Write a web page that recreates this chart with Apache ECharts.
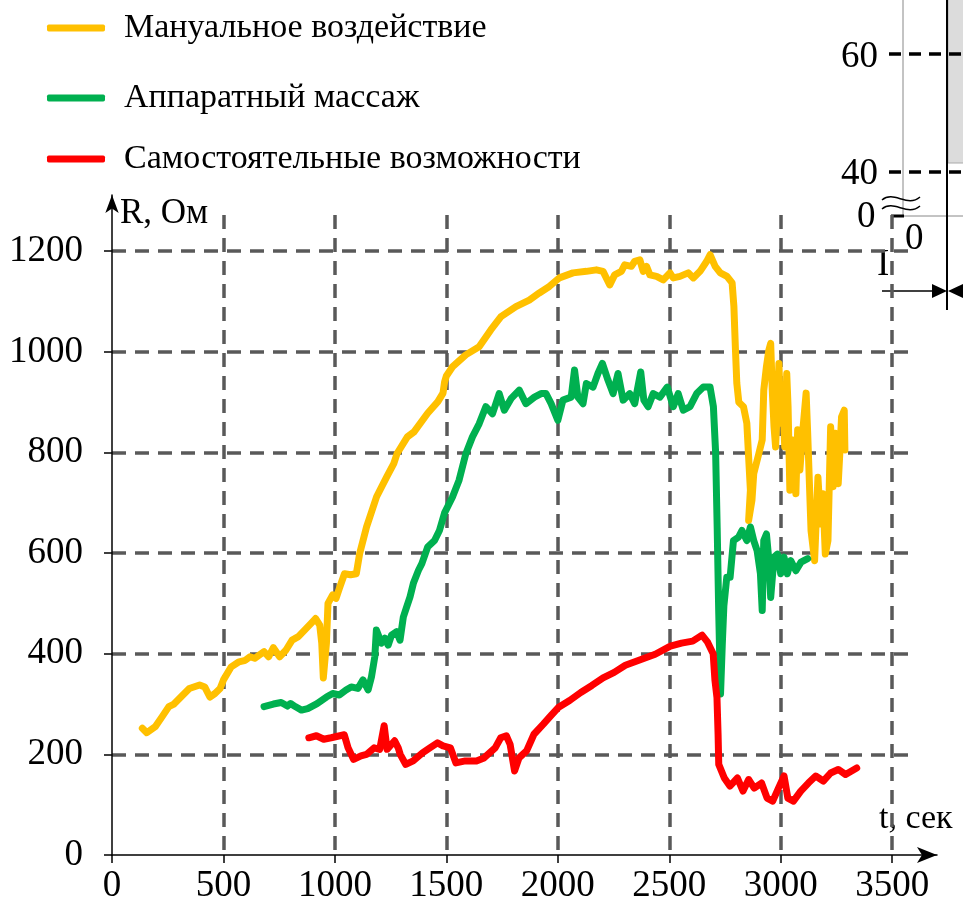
<!DOCTYPE html>
<html><head><meta charset="utf-8">
<script src="https://cdn.jsdelivr.net/npm/echarts@6/dist/echarts.min.js"></script>
<style>html,body{margin:0;padding:0;background:#fff}#c{width:963px;height:911px}</style>
</head><body><div id="c"></div>
<script>
var seriesNames = ['Мануальное воздействие', 'Аппаратный массаж', 'Самостоятельные возможности'];
var xTicks = [0, 500, 1000, 1500, 2000, 2500, 3000, 3500];
var yTicks = [0, 200, 400, 600, 800, 1000, 1200];

var manualT = [136,156,194,225,255,278,309,347,393,416,439,462,485,500,535,570,598,619,640,682,703,724,752,780,808,836,864,892,913,932,941,948,962,969,990,1005,1020,1043,1070,1096,1111,1142,1187,1233,1264,1279,1325,1355,1416,1462,1485,1492,1500,1527,1587,1647,1700,1745,1812,1872,1917,1962,2007,2068,2128,2173,2203,2233,2255,2285,2300,2330,2345,2368,2383,2398,2413,2443,2473,2503,2518,2548,2585,2608,2638,2668,2683,2706,2729,2759,2782,2790,2797,2803,2812,2833,2848,2856,2864,2856,2871,2879,2902,2917,2924,2936,2947,2955,2962,2970,2977,2985,2992,3000,3008,3018,3027,3033,3041,3053,3068,3076,3086,3098,3114,3121,3136,3152,3167,3179,3189,3200,3212,3224,3235,3245,3258,3265,3273,3285,3288];
var manualR = [252,243,255,275,295,300,314,331,338,334,314,321,331,348,374,384,387,394,391,404,394,412,394,407,427,434,447,460,470,457,421,352,421,500,517,510,530,559,557,559,599,652,712,752,778,798,831,841,878,901,918,940,952,970,994,1010,1044,1070,1090,1103,1117,1130,1147,1157,1160,1163,1160,1133,1153,1160,1173,1170,1180,1183,1160,1170,1153,1150,1143,1157,1147,1150,1157,1147,1160,1180,1193,1170,1157,1150,1137,1090,1004,938,900,891,858,791,725,665,705,758,798,825,924,971,1004,1017,924,851,811,891,977,858,924,811,957,891,725,825,718,845,765,838,918,838,645,585,751,658,718,598,625,851,732,838,738,798,871,884,805];

var apparatT = [682,724,759,787,801,822,850,878,920,962,990,1020,1050,1073,1103,1126,1149,1164,1179,1186,1209,1224,1239,1254,1277,1292,1307,1322,1337,1352,1375,1390,1416,1447,1469,1492,1527,1557,1587,1617,1647,1677,1707,1737,1760,1790,1827,1857,1895,1925,1947,1970,2000,2023,2060,2075,2090,2113,2128,2158,2180,2200,2225,2248,2270,2293,2323,2345,2372,2386,2405,2428,2458,2491,2518,2540,2563,2593,2623,2653,2683,2698,2708,2715,2722,2730,2738,2745,2758,2773,2788,2811,2826,2848,2864,2879,2894,2909,2917,2924,2936,2947,2955,2970,2985,3000,3015,3030,3045,3068,3091,3121];
var apparatR = [295,300,303,296,301,295,288,291,301,314,321,318,328,334,331,348,328,354,394,447,421,431,417,437,444,427,473,493,513,540,566,579,612,625,645,680,711,745,797,831,857,891,877,917,884,907,924,897,910,917,917,897,864,904,910,964,910,897,937,930,957,977,944,917,957,904,917,897,960,904,891,917,910,930,891,917,884,891,917,930,930,891,800,650,480,320,420,495,552,552,625,632,645,625,652,625,605,559,486,625,638,585,512,592,598,559,592,559,585,565,582,589];

var selfT = [883,917,950,983,1042,1059,1084,1117,1142,1176,1201,1221,1234,1268,1284,1293,1318,1351,1393,1426,1460,1485,1518,1543,1585,1635,1669,1694,1719,1744,1769,1786,1806,1826,1860,1893,1935,1969,2002,2053,2103,2153,2203,2253,2303,2370,2437,2505,2555,2605,2647,2672,2697,2705,2714,2719,2722,2747,2772,2806,2831,2856,2881,2914,2939,2964,2990,3015,3032,3057,3090,3124,3157,3191,3224,3258,3291,3341];
var selfR = [233,237,230,233,239,213,190,197,200,213,210,257,210,227,213,200,180,187,203,213,223,217,213,183,187,187,193,203,213,233,237,220,167,193,207,240,260,277,293,307,323,337,352,363,377,388,399,415,421,425,437,423,400,347,313,240,180,153,137,153,127,150,133,143,113,107,133,157,113,107,127,143,157,147,163,170,160,173];

var colors = ['#FFC000', '#00B050', '#FF0000'];
function zip(a, b) { return a.map(function (v, i) { return [v, b[i]]; }); }
var dataSets = [zip(manualT, manualR), zip(apparatT, apparatR), zip(selfT, selfR)];

var FONT = 'Liberation Serif';
var chart = echarts.init(document.getElementById('c'), null, {renderer: 'canvas'});

var legendTops = [6, 76, 137];
var legends = seriesNames.map(function (n, i) {
  return {
    data: [n], left: 42, top: legendTops[i], orient: 'horizontal',
    icon: 'roundRect', itemWidth: 58, itemHeight: 7,
    textStyle: {fontFamily: FONT, fontSize: 34, color: '#000', padding: [0, 0, 0, 14]},
    selectedMode: false
  };
});

var series = seriesNames.map(function (n, i) {
  return {
    name: n, type: 'line', xAxisIndex: 0, yAxisIndex: 0,
    data: dataSets[i], showSymbol: false, symbol: 'none', silent: true,
    color: colors[i],
    lineStyle: {width: 7, color: colors[i], cap: 'round', join: 'round'},
    animation: false
  };
});

var gridDash = {color: '#595959', width: 3.5, type: [14, 9]};
function txt(x, y, s, size) {
  return {type: 'text', x: x, y: y, style: {text: s, fontFamily: FONT, fontSize: size, fill: '#000', textVerticalAlign: 'top'}};
}
function plain(v) { return String(v); }

chart.setOption({
  animation: false,
  backgroundColor: '#fff',
  legend: legends,
  grid: [
    {left: 112, right: 53, top: 215, bottom: 56},
    {left: 112, right: 26, top: 195, bottom: 56}
  ],
  xAxis: [
    {
      type: 'value', gridIndex: 0, min: 0, max: 3580, interval: 500,
      axisLine: {show: false},
      axisTick: {show: true, length: 8, customValues: xTicks, lineStyle: {color: '#000', width: 1.5}},
      axisLabel: {customValues: xTicks, formatter: plain, fontFamily: FONT, fontSize: 37, color: '#000', margin: 13},
      splitLine: {show: true, showMinLine: false, showMaxLine: true, lineStyle: gridDash}
    },
    {
      type: 'value', gridIndex: 1, min: 0, max: 1,
      axisLine: {show: true, symbol: ['none', 'arrow'], symbolSize: [12, 20], lineStyle: {color: '#000', width: 1.5}},
      axisTick: {show: false}, axisLabel: {show: false}, splitLine: {show: false}
    }
  ],
  yAxis: [
    {
      type: 'value', gridIndex: 0, min: 0, max: 1272, interval: 200,
      axisLine: {show: false},
      axisTick: {show: true, length: 8, customValues: yTicks, lineStyle: {color: '#000', width: 1.5}},
      axisLabel: {customValues: yTicks, formatter: plain, fontFamily: FONT, fontSize: 37, color: '#000', margin: 29},
      splitLine: {show: true, showMinLine: false, showMaxLine: true, lineStyle: gridDash}
    },
    {
      type: 'value', gridIndex: 1, min: 0, max: 1,
      axisLine: {show: true, symbol: ['none', 'arrow'], symbolSize: [10, 18], lineStyle: {color: '#000', width: 1.5}},
      axisTick: {show: false}, axisLabel: {show: false}, splitLine: {show: false}
    }
  ],
  series: series,
  graphic: [
    txt(120, 196, 'R, Ом', 35),
    txt(879, 802, 't, сек', 34),
    {type: 'rect', shape: {x: 948, y: -2, width: 17, height: 165}, style: {fill: '#dcdcdc', stroke: '#aaa', lineWidth: 1}},
    {type: 'line', shape: {x1: 903, y1: 0, x2: 903, y2: 216}, style: {stroke: '#888', lineWidth: 1}},
    {type: 'line', shape: {x1: 903, y1: 216, x2: 963, y2: 216}, style: {stroke: '#888', lineWidth: 1}},
    {type: 'line', shape: {x1: 947, y1: 0, x2: 947, y2: 310}, style: {stroke: '#000', lineWidth: 2}},
    {type: 'line', shape: {x1: 889, y1: 54, x2: 963, y2: 54}, style: {stroke: '#000', lineWidth: 3.5, lineDash: [12, 8]}},
    {type: 'line', shape: {x1: 889, y1: 172, x2: 963, y2: 172}, style: {stroke: '#000', lineWidth: 3.5, lineDash: [12, 8]}},
    {type: 'line', shape: {x1: 891, y1: 216, x2: 904, y2: 216}, style: {stroke: '#000', lineWidth: 3}},
    txt(841, 39, '60', 37),
    txt(841, 156, '40', 37),
    txt(857, 199, '0', 37),
    txt(905, 221, '0', 37),
    txt(877, 247, 'I', 37),
    {type: 'bezierCurve', shape: {x1: 882, y1: 200, cpx1: 894, cpy1: 190, cpx2: 907, cpy2: 208, x2: 920, y2: 197}, style: {stroke: '#000', lineWidth: 1.5, fill: null}},
    {type: 'bezierCurve', shape: {x1: 882, y1: 209, cpx1: 894, cpy1: 199, cpx2: 907, cpy2: 217, x2: 920, y2: 206}, style: {stroke: '#000', lineWidth: 1.5, fill: null}},
    {type: 'line', shape: {x1: 882, y1: 291, x2: 934, y2: 291}, style: {stroke: '#000', lineWidth: 1.5}},
    {type: 'polygon', shape: {points: [[932, 284], [947, 291], [932, 298]]}, style: {fill: '#000'}},
    {type: 'polygon', shape: {points: [[963, 284], [948, 291], [963, 298]]}, style: {fill: '#000'}}
  ]
});
</script>
</body></html>
